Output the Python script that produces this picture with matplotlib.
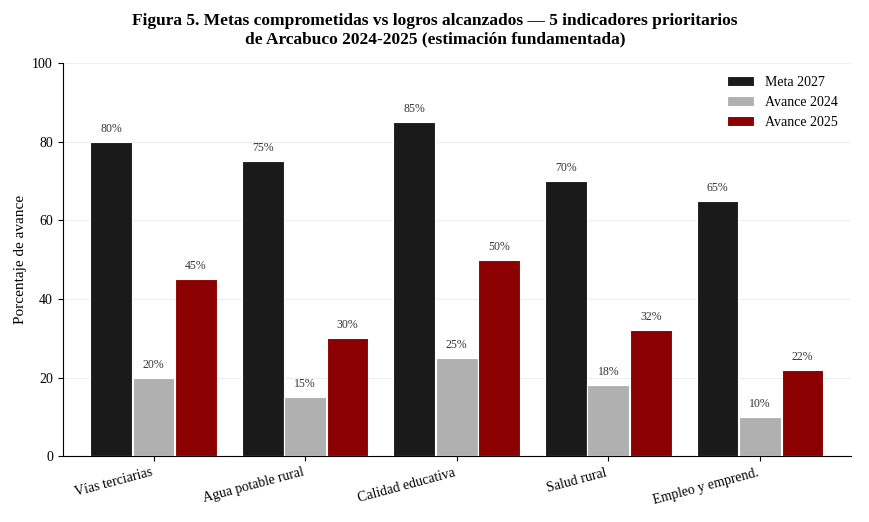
import numpy as np
import matplotlib.pyplot as plt

plt.rcParams['font.family'] = ['Liberation Serif', 'DejaVu Serif']

indicadores = ["Vías terciarias", "Agua potable rural", "Calidad educativa",
               "Salud rural", "Empleo y emprend."]
meta_2027 = [80, 75, 85, 70, 65]
avance_2024 = [20, 15, 25, 18, 10]
avance_2025 = [45, 30, 50, 32, 22]

series = [("Meta 2027", meta_2027, "#1a1a1a"),
          ("Avance 2024", avance_2024, "#b0b0b0"),
          ("Avance 2025", avance_2025, "#8b0000")]

fig, ax = plt.subplots(figsize=(8.7, 5.22), dpi=100)
fig.subplots_adjust(left=0.072, right=0.978, bottom=0.126, top=0.879)

x = np.arange(len(indicadores))
w = 0.275
for i, (nombre, vals, color) in enumerate(series):
    pos = x + (i - 1) * (w + 0.005)
    bars = ax.bar(pos, vals, w, color=color, edgecolor="white", linewidth=0.8,
                  label=nombre, zorder=3)
    for b, v in zip(bars, vals):
        ax.text(b.get_x() + b.get_width() / 2, v + 1.8, f"{v}%",
                ha="center", va="bottom", fontsize=8.5, color="#333333")

ax.set_ylim(0, 100)
ax.set_xlim(-0.6, 4.6)
ax.set_yticks([0, 20, 40, 60, 80, 100])
ax.set_xticks(x)
ax.set_xticklabels(indicadores, rotation=15, ha="right", fontsize=10)
ax.tick_params(axis="y", labelsize=10)
ax.set_ylabel("Porcentaje de avance", fontsize=11)
ax.grid(axis="y", color="#eeeeee", linewidth=0.8, zorder=0)
for s in ["top", "right"]:
    ax.spines[s].set_visible(False)
ax.legend(loc="upper right", frameon=False, fontsize=10)
fig.suptitle("Figura 5. Metas comprometidas vs logros alcanzados — 5 indicadores prioritarios\n"
             "de Arcabuco 2024-2025 (estimación fundamentada)",
             fontsize=12.5, fontweight="bold", y=0.975)

fig.savefig("out.png")
